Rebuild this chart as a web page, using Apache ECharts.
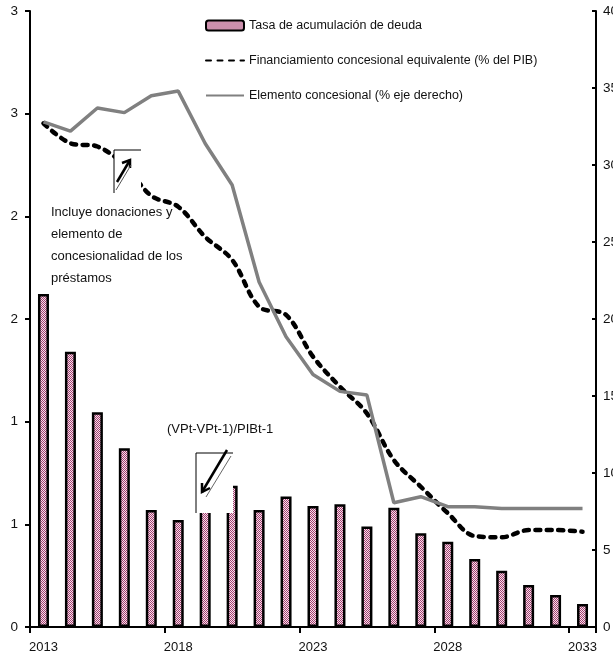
<!DOCTYPE html>
<html>
<head>
<meta charset="utf-8">
<script src="https://cdn.jsdelivr.net/npm/echarts@6/dist/echarts.min.js"></script>
<style>
html,body{margin:0;padding:0;background:#fff;}
#c{width:613px;height:664px;}
</style>
</head>
<body>
<div id="c"></div>
<script>
// ---- data ----
const years = ['2013','2014','2015','2016','2017','2018','2019','2020','2021','2022','2023',
               '2024','2025','2026','2027','2028','2029','2030','2031','2032','2033'];
const debtAccumulation = [1.622,1.341,1.046,0.870,0.570,0.521,0.62,0.688,0.570,0.635,0.589,
                          0.598,0.489,0.581,0.456,0.415,0.331,0.274,0.205,0.156,0.112];
const concessionalFinancing = [2.453,2.356,2.34,2.25,2.10,2.047,1.90,1.788,1.56,1.52,1.317,
                               1.17,1.04,0.813,0.683,0.555,0.443,0.437,0.472,0.472,0.464];
const concessionalElement = [32.8,32.2,33.7,33.4,34.5,34.8,31.4,28.7,22.4,18.85,16.4,
                             15.3,15.06,8.07,8.46,7.81,7.81,7.7,7.7,7.7,7.7];
const leftTickLabels = ['0','1','1','2','2','3','3'];   // values 0,0.5,...,3
const rightTickLabels = ['0','5','10','15','20','25','30','35','40'];
const seriesNames = ['Tasa de acumulación de deuda',
                     'Financiamiento concesional equivalente (% del PIB)',
                     'Elemento concesional (% eje derecho)'];

const FONT = '"Liberation Sans Narrow","Liberation Sans",Arial,sans-serif';

// checker pattern for the bars
const pc = document.createElement('canvas');
pc.width = 2; pc.height = 2;
const pctx = pc.getContext('2d');
pctx.fillStyle = '#f6e0ec'; pctx.fillRect(0,0,2,2);
pctx.fillStyle = '#a3406f'; pctx.fillRect(0,0,1,1); pctx.fillRect(1,1,1,1);
const pattern = {image: pc, repeat: 'repeat'};

const hiddenSymbol = {color:'rgba(0,0,0,0)', borderWidth:0, opacity:0};

const chart = echarts.init(document.getElementById('c'), null, {renderer:'canvas'});
const option = {
  animation:false,
  backgroundColor:'#fff',
  textStyle:{fontFamily:FONT},
  grid:{left:30, right:17, top:11, bottom:37, containLabel:false, outerBoundsMode:'none'},
  legend:{
    orient:'vertical', left:200, top:14, itemGap:22,
    itemWidth:38, itemHeight:10,
    textStyle:{fontFamily:FONT, fontSize:12.5, color:'#111'},
    data:[
      {name:seriesNames[0]},
      {name:seriesNames[1], itemStyle:hiddenSymbol},
      {name:seriesNames[2], itemStyle:hiddenSymbol}
    ]
  },
  xAxis:{
    type:'category', data:years, boundaryGap:true,
    axisLine:{lineStyle:{color:'#000', width:2}},
    axisTick:{show:true, interval:4, length:6, lineStyle:{color:'#000', width:2}},
    axisLabel:{interval:4, margin:14, fontFamily:FONT, fontSize:13, color:'#111'}
  },
  yAxis:[{
    type:'value', min:0, max:3, interval:0.5, position:'left',
    axisLine:{show:true, lineStyle:{color:'#000', width:2}},
    axisTick:{show:true, length:5, lineStyle:{color:'#000', width:2}},
    splitLine:{show:false},
    axisLabel:{margin:12, fontFamily:FONT, fontSize:13.5, color:'#111',
      formatter:(v)=>leftTickLabels[Math.round(v/0.5)]}
  },{
    type:'value', min:0, max:40, interval:5, position:'right',
    axisLine:{show:true, lineStyle:{color:'#000', width:2}},
    axisTick:{show:true, inside:true, length:4, lineStyle:{color:'#000', width:2}},
    splitLine:{show:false},
    axisLabel:{margin:7, fontFamily:FONT, fontSize:13.5, color:'#111',
      formatter:(v)=>rightTickLabels[Math.round(v/5)]}
  }],
  series:[{
    name:seriesNames[0], type:'bar', yAxisIndex:0, data:debtAccumulation,
    barWidth:11,
    itemStyle:{color:pattern, borderColor:'#000', borderWidth:2.5}
  },{
    name:seriesNames[1], type:'line', yAxisIndex:0, data:concessionalFinancing,
    symbol:'none', smooth:0.35, z:3,
    lineStyle:{color:'#000', width:4.5, type:[5,6.5], cap:'round'},
    itemStyle:{color:'#000'}
  },{
    name:seriesNames[2], type:'line', yAxisIndex:1, data:concessionalElement,
    symbol:'none', z:4,
    lineStyle:{color:'#808080', width:3.5},
    itemStyle:{color:'#808080'}
  }],
  graphic:[
    // broken-arrow box 1
    {type:'rect', z:100, shape:{x:114, y:150, width:27, height:43}, style:{fill:'#fff'}},
    {type:'polyline', z:101, shape:{points:[[114,193],[114,150],[141,150]]}, style:{stroke:'#000', lineWidth:1, fill:null}},
    {type:'line', z:101, shape:{x1:117, y1:182, x2:130, y2:160}, style:{stroke:'#000', lineWidth:2.5}},
    {type:'polyline', z:101, shape:{points:[[122,163],[130,160],[130,168]]}, style:{stroke:'#000', lineWidth:2.5, fill:null}},
    {type:'line', z:101, shape:{x1:116, y1:190, x2:131, y2:165}, style:{stroke:'#555', lineWidth:1}},
    // broken-arrow box 2
    {type:'rect', z:100, shape:{x:196, y:453, width:37, height:60}, style:{fill:'#fff'}},
    {type:'polyline', z:101, shape:{points:[[196,513],[196,453],[233,453]]}, style:{stroke:'#000', lineWidth:1, fill:null}},
    {type:'line', z:101, shape:{x1:227, y1:450, x2:202, y2:492}, style:{stroke:'#000', lineWidth:2.5}},
    {type:'polyline', z:101, shape:{points:[[202,483],[202,492],[210,488]]}, style:{stroke:'#000', lineWidth:2.5, fill:null}},
    {type:'line', z:101, shape:{x1:231, y1:456, x2:206, y2:497}, style:{stroke:'#666', lineWidth:1}},
    // annotations
    {type:'text', z:102, left:51, top:201, style:{
      text:'Incluye donaciones y\nelemento de\nconcesionalidad de los\npréstamos',
      font:'13px '+FONT, fill:'#111', lineHeight:22}},
    {type:'text', z:102, left:167, top:423, style:{
      text:'(VPt-VPt-1)/PIBt-1', font:'13px '+FONT, fill:'#111'}}
  ]
};
chart.setOption(option);
</script>
</body>
</html>
